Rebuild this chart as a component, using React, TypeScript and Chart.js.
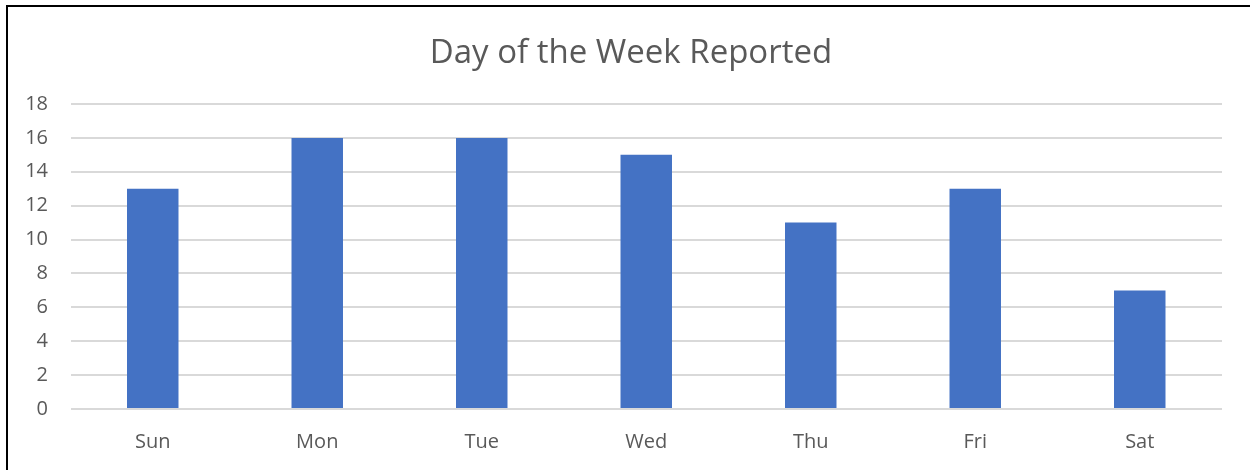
import React, { useEffect, useRef } from "react";
import { Chart, registerables } from "chart.js";

Chart.register(...registerables);

const categories = ["Sun", "Mon", "Tue", "Wed", "Thu", "Fri", "Sat"];
const counts = [13, 16, 16, 15, 11, 13, 7];
const titleText = "Day of the Week Reported";
const yMin = 0;
const yMax = 18;
const yStep = 2;

const centerTitlePlugin = {
  id: "centerTitle",
  afterLayout(chart: any) {
    const tb = chart.titleBlock;
    if (tb) {
      tb.left = 6;
      tb.right = 1256;
      tb.width = 1250;
    }
  },
};

export default function App() {
  const canvasRef = useRef<HTMLCanvasElement | null>(null);

  useEffect(() => {
    const canvas = canvasRef.current;
    if (!canvas) return;
    const chart = new Chart(canvas, {
      type: "bar",
      data: {
        labels: categories,
        datasets: [
          {
            label: "Count",
            data: counts,
            backgroundColor: "#4472C4",
            borderWidth: 0,
            categoryPercentage: 1,
            barPercentage: 0.313,
          },
        ],
      },
      plugins: [centerTitlePlugin],
      options: {
        responsive: false,
        animation: false,
        devicePixelRatio: 1,
        layout: { padding: { left: 0, right: 28, top: 0, bottom: 0 } },
        plugins: {
          legend: { display: false },
          tooltip: { enabled: false },
          title: {
            display: true,
            text: titleText,
            color: "#595959",
            font: { family: "'Open Sans'", size: 33, weight: "normal", lineHeight: 1.2 },
            padding: { top: 34, bottom: 30.4 },
          },
        },
        scales: {
          x: {
            grid: { display: false, drawTicks: false },
            border: { display: false },
            ticks: {
              color: "#595959",
              font: { family: "'Open Sans'", size: 20 },
              padding: 21,
              maxRotation: 0,
            },
            afterFit: (scale: any) => {
              scale.height = 61;
            },
          },
          y: {
            min: yMin,
            max: yMax,
            grid: { color: "#d9d9d9", lineWidth: 2, drawTicks: false },
            border: { display: false },
            ticks: {
              stepSize: yStep,
              color: "#595959",
              font: { family: "'Open Sans'", size: 20 },
              padding: 22.5,
            },
            afterFit: (scale: any) => {
              scale.width = 70.5;
            },
          },
        },
      },
    });
    return () => chart.destroy();
  }, []);

  return (
    <div
      style={{
        position: "fixed",
        left: 0,
        top: 0,
        width: 1250,
        height: 470,
        background: "#ffffff",
        overflow: "hidden",
      }}
    >
      <canvas
        ref={canvasRef}
        width={1250}
        height={470}
        style={{ position: "absolute", left: 0, top: 0, width: 1250, height: 470 }}
      />
      <div
        style={{
          position: "absolute",
          left: 6,
          top: 5,
          width: 1260,
          height: 480,
          border: "2px solid #000000",
          boxSizing: "border-box",
          pointerEvents: "none",
        }}
      />
    </div>
  );
}
